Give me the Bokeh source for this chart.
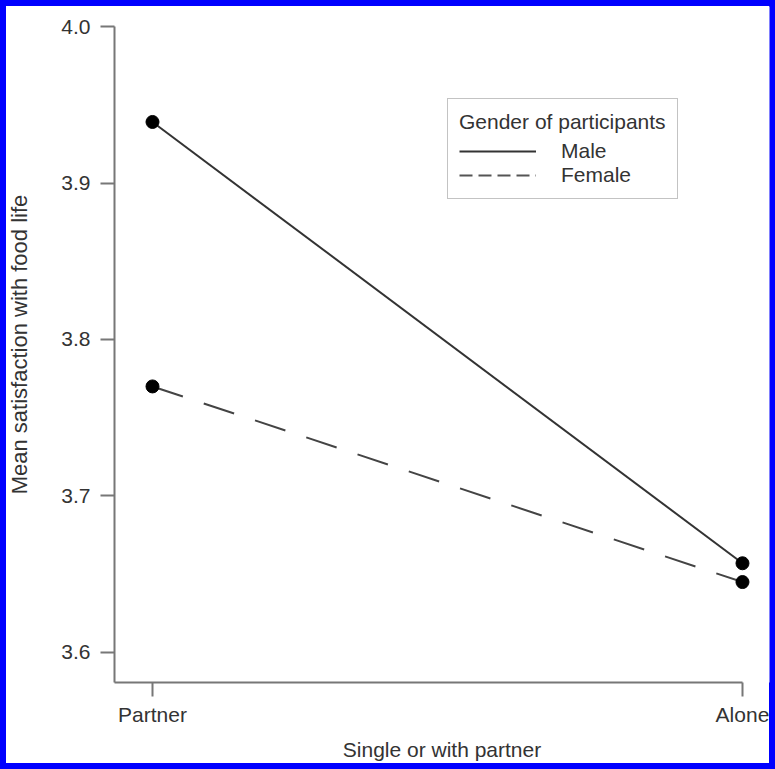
from bokeh.plotting import figure
from bokeh.models import Range1d, FixedTicker, Legend, LegendItem
from bokeh.embed import file_html
from bokeh.resources import INLINE

# ---- data ----
categories = ["Partner", "Alone"]
male = [3.939, 3.657]
female = [3.770, 3.645]
y_ticks = [3.6, 3.7, 3.8, 3.9, 4.0]
y_tick_labels = ["3.6", "3.7", "3.8", "3.9", "4.0"]
series_names = ["Male", "Female"]
legend_title = "Gender of participants"
x_title = "Single or with partner"
y_title = "Mean satisfaction with food life"

xs = list(range(len(categories)))

FONT = "Liberation Sans"
TXT = "#333333"
AX = "#777777"

x0, x1 = -0.0644, 1.0458
y0, y1 = 3.5808, 4.0128

p = figure(width=775, height=769, output_backend="svg", toolbar_location=None,
           x_range=Range1d(x0, x1), y_range=Range1d(y0, y1),
           min_border_left=114, min_border_right=6, min_border_top=6, min_border_bottom=87)
p.styles = {"background-color": "white",
            "box-shadow": "inset 0 0 0 6px #0000ff",
            "outline": "6px solid #0000ff", "outline-offset": "-6px"}
p.outline_line_color = None
p.xgrid.visible = False
p.ygrid.visible = False
p.background_fill_color = "white"
p.border_fill_alpha = 0

# axes
for ax in (p.xaxis[0], p.yaxis[0]):
    ax.axis_line_color = AX
    ax.axis_line_width = 2
    ax.major_tick_line_color = AX
    ax.major_tick_line_width = 2
    ax.major_tick_out = 14
    ax.major_tick_in = 0
    ax.minor_tick_line_color = None
    ax.major_label_text_font = FONT
    ax.major_label_text_font_size = "21px"
    ax.major_label_text_color = TXT
    ax.axis_label_text_font = FONT
    ax.axis_label_text_font_size = "21px"
    ax.axis_label_text_font_style = "normal"
    ax.axis_label_text_color = TXT

p.xaxis.ticker = FixedTicker(ticks=xs)
p.xaxis.major_label_overrides = {x: c for x, c in zip(xs, categories)}
p.xaxis.bounds = (x0, xs[-1])
p.xaxis.axis_label = x_title
p.xaxis.major_label_standoff = 6
p.xaxis.axis_label_standoff = 9

p.yaxis.ticker = FixedTicker(ticks=y_ticks)
p.yaxis.major_label_overrides = {t: l for t, l in zip(y_ticks, y_tick_labels)}
p.yaxis.bounds = (y0, y_ticks[-1])
p.yaxis.axis_label = y_title
p.yaxis.axis_label_text_font_size = "22px"
p.yaxis.major_label_standoff = 10
p.yaxis.axis_label_standoff = 26

# data lines
p.line(xs, male, line_color="#333333", line_width=2)
p.line(xs, female, line_color="#444444", line_width=2, line_dash="32 22")
p.scatter(xs, male, size=13, fill_color="black", line_color="black")
p.scatter(xs, female, size=13, fill_color="black", line_color="black")

# legend proxies (hidden renderers, shown only as legend samples)
lm = p.line(xs, male, line_color="#333333", line_width=2, visible=False)
lf = p.line(xs, female, line_color="#555555", line_width=2, line_dash="13 6", visible=False)

legend = Legend(items=[LegendItem(label=series_names[0], renderers=[lm]),
                       LegendItem(label=series_names[1], renderers=[lf])],
                location=(333, 483), title=legend_title)
legend.title_text_font = FONT
legend.title_text_font_size = "21px"
legend.title_text_font_style = "normal"
legend.title_text_color = TXT
legend.title_standoff = 5
legend.label_text_font = FONT
legend.label_text_font_size = "21px"
legend.label_text_color = TXT
legend.glyph_width = 77
legend.glyph_height = 20
legend.label_height = 20
legend.label_standoff = 25
legend.spacing = 0
legend.padding = 11
legend.margin = 0
legend.border_line_color = "#888888"
legend.border_line_width = 1.5
legend.background_fill_alpha = 1
legend.inactive_fill_alpha = 0
p.add_layout(legend, "center")

open("out.html", "w").write(file_html(p, INLINE))
